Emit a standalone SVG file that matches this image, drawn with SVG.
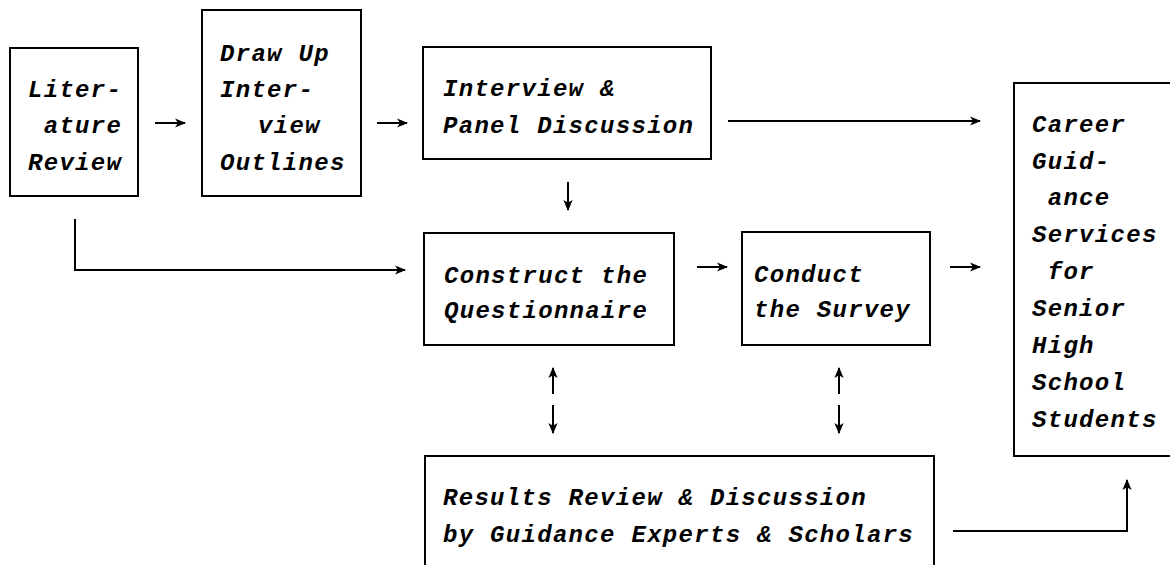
<svg xmlns="http://www.w3.org/2000/svg" width="1170" height="565" viewBox="0 0 1170 565">
<style>
.box{fill:#fff;stroke:#000;stroke-width:2}
.t{font-family:"Liberation Mono","DejaVu Sans Mono",monospace;font-style:italic;font-weight:bold;font-size:24px;letter-spacing:1.3px;fill:#000}
.c{fill:none;stroke:#000;stroke-width:2}
</style>
<defs>
<marker id="ah" viewBox="0 0 10 10" markerWidth="11" markerHeight="11" refX="9" refY="5" orient="auto" markerUnits="userSpaceOnUse">
<path d="M0,0.8 L10,5 L0,9.2 L2.5,5 Z" fill="#000"/>
</marker>
</defs>
<rect width="1170" height="565" fill="#fff"/>
<g id="connectors">
<path class="c" d="M155,123 H185" marker-end="url(#ah)"/>
<path class="c" d="M377,123 H407" marker-end="url(#ah)"/>
<path class="c" d="M728,121 H980" marker-end="url(#ah)"/>
<path class="c" d="M568,182 V210" marker-end="url(#ah)"/>
<path class="c" d="M75,219 V270 H405" marker-end="url(#ah)"/>
<path class="c" d="M697,267 H727" marker-end="url(#ah)"/>
<path class="c" d="M950,267 H980" marker-end="url(#ah)"/>
<path class="c" d="M553,394 V368" marker-end="url(#ah)"/>
<path class="c" d="M553,405 V433" marker-end="url(#ah)"/>
<path class="c" d="M839,394 V368" marker-end="url(#ah)"/>
<path class="c" d="M839,405 V433" marker-end="url(#ah)"/>
<path class="c" d="M953,531 H1127 V480" marker-end="url(#ah)"/>
</g>
<g id="literature-review">
<rect class="box" x="10" y="48" width="128" height="148"/>
<text class="t" x="28" y="97" xml:space="preserve"><tspan x="28" y="97">Liter-</tspan><tspan x="28" y="133"> ature</tspan><tspan x="28" y="170">Review</tspan></text>
</g>
<g id="draw-up-outlines">
<rect class="box" x="202" y="10" width="159" height="186"/>
<text class="t"><tspan x="220" y="61">Draw Up</tspan><tspan x="220" y="97">Inter-</tspan><tspan x="258" y="133">view</tspan><tspan x="220" y="170">Outlines</tspan></text>
</g>
<g id="interview-panel">
<rect class="box" x="423" y="47" width="288" height="112"/>
<text class="t"><tspan x="443" y="96">Interview &amp;</tspan><tspan x="443" y="133">Panel Discussion</tspan></text>
</g>
<g id="construct-questionnaire">
<rect class="box" x="424" y="233" width="250" height="112"/>
<text class="t"><tspan x="444" y="283">Construct the</tspan><tspan x="444" y="318">Questionnaire</tspan></text>
</g>
<g id="conduct-survey">
<rect class="box" x="742" y="232" width="188" height="113"/>
<text class="t"><tspan x="754" y="282">Conduct</tspan><tspan x="754" y="317">the Survey</tspan></text>
</g>
<g id="results-review">
<rect class="box" x="425" y="456" width="509" height="120"/>
<text class="t"><tspan x="443" y="505">Results Review &amp; Discussion</tspan><tspan x="443" y="542">by Guidance Experts &amp; Scholars</tspan></text>
</g>
<g id="career-guidance">
<rect class="box" x="1014" y="83" width="170" height="373"/>
<text class="t" xml:space="preserve"><tspan x="1032" y="132">Career</tspan><tspan x="1032" y="169">Guid-</tspan><tspan x="1032" y="205"> ance</tspan><tspan x="1032" y="242">Services</tspan><tspan x="1032" y="279"> for</tspan><tspan x="1032" y="316">Senior</tspan><tspan x="1032" y="353">High</tspan><tspan x="1032" y="390">School</tspan><tspan x="1032" y="427">Students</tspan></text>
</g>
</svg>
